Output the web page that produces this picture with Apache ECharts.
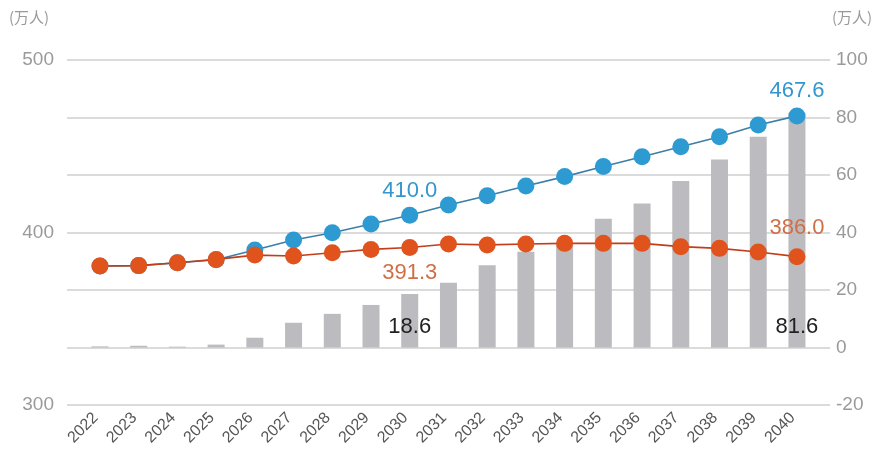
<!DOCTYPE html>
<html>
<head>
<meta charset="utf-8">
<script src="https://cdn.jsdelivr.net/npm/echarts@6/dist/echarts.min.js"></script>
<style>
  html, body { margin: 0; padding: 0; background: #ffffff; }
  #chart { width: 884px; height: 462px; }
</style>
</head>
<body>
<div id="chart"></div>
<script>
// Years on the category axis
const years = ['2022','2023','2024','2025','2026','2027','2028','2029','2030','2031',
               '2032','2033','2034','2035','2036','2037','2038','2039','2040'];

// Gap between the two scenarios (right axis, 万人)
const gapValues = [0.4, 0.6, 0.3, 1.0, 3.4, 8.6, 11.7, 14.8, 18.6, 22.5,
                   28.6, 33.3, 36.0, 44.8, 50.1, 57.9, 65.4, 73.3, 81.6];

// Demand-side scenario (left axis, 万人)
const blueValues = [380.6, 380.8, 382.5, 384.2, 389.9, 395.7, 399.9, 404.9, 410.0, 415.9,
                    421.3, 427.0, 432.4, 438.3, 443.9, 449.7, 455.5, 462.3, 467.6];

// Supply-side scenario (left axis, 万人)
const orangeValues = [380.6, 380.8, 382.5, 384.4, 386.9, 386.4, 388.3, 390.2, 391.3, 393.3,
                      392.8, 393.3, 393.7, 393.7, 393.7, 391.8, 390.8, 388.7, 386.0];

// Left and right axis ranges
const leftAxis = { min: 300, max: 500, interval: 100 };
const rightAxis = { min: -20, max: 100, interval: 20 };

// Years whose values are printed on the chart
const labelledYears = ['2030', '2040'];

const BLUE = '#2d9bd2';
const ORANGE = '#e0531d';
const BAR = '#bcbcc0';
const AXIS_TEXT = '#9a9a9a';
const FONT = 'Liberation Sans, Arial, sans-serif';

function labelledIndex(i) { return labelledYears.indexOf(years[i]) !== -1; }

function lineData(values, labelFor) {
  return values.map((v, i) => {
    if (!labelledIndex(i)) return v;
    return { value: v, label: labelFor(years[i]) };
  });
}

const chart = echarts.init(document.getElementById('chart'), null, { renderer: 'canvas' });

chart.setOption({
  animation: false,
  backgroundColor: '#ffffff',
  textStyle: { fontFamily: FONT },
  grid: [
    // plotting grid
    { left: 80.6, right: 67.7, top: 60, bottom: 57 },
    // wider grid carrying the gridlines and axis labels
    { left: 67, right: 54, top: 60, bottom: 57 }
  ],
  xAxis: [
    {
      type: 'category', gridIndex: 0, data: years, boundaryGap: true,
      axisLine: { show: false }, axisTick: { show: false },
      axisLabel: {
        interval: 0, rotate: 45, margin: 6, padding: [0, 6, 0, 0],
        color: '#555555', fontSize: 16, fontFamily: FONT
      }
    },
    { type: 'category', gridIndex: 1, data: years, show: false }
  ],
  yAxis: [
    { type: 'value', gridIndex: 0, position: 'left', show: false,
      min: leftAxis.min, max: leftAxis.max, interval: leftAxis.interval },
    { type: 'value', gridIndex: 0, position: 'right', show: false,
      min: rightAxis.min, max: rightAxis.max, interval: rightAxis.interval },
    { type: 'value', gridIndex: 1, position: 'left',
      min: leftAxis.min, max: leftAxis.max, interval: leftAxis.interval,
      axisLine: { show: false }, axisTick: { show: false }, splitLine: { show: false },
      axisLabel: { color: AXIS_TEXT, fontSize: 19, margin: 13, fontFamily: FONT } },
    { type: 'value', gridIndex: 1, position: 'right',
      min: rightAxis.min, max: rightAxis.max, interval: rightAxis.interval,
      axisLine: { show: false }, axisTick: { show: false },
      splitLine: { show: true, lineStyle: { color: '#cfcfcf', width: 1.5 } },
      axisLabel: { color: AXIS_TEXT, fontSize: 19, margin: 6, fontFamily: FONT } }
  ],
  graphic: [
    { type: 'text', left: 9, top: 10,
      style: { text: '(万人)', fill: AXIS_TEXT, font: '15px "Noto Sans CJK SC", sans-serif' } },
    { type: 'text', left: 832, top: 10,
      style: { text: '(万人)', fill: AXIS_TEXT, font: '15px "Noto Sans CJK SC", sans-serif' } }
  ],
  series: [
    {
      type: 'bar', name: 'gap', xAxisIndex: 0, yAxisIndex: 1,
      data: gapValues.map((v, i) => labelledIndex(i)
        ? { value: v, label: { show: true, position: 'insideBottom', distance: 10,
            color: '#222222', fontSize: 22, fontFamily: FONT,
            formatter: p => p.value.toFixed(1) } }
        : v),
      barWidth: 17,
      itemStyle: { color: BAR },
      z: 1
    },
    {
      type: 'line', name: 'demand', xAxisIndex: 0, yAxisIndex: 0,
      data: lineData(blueValues, y => ({
        show: true, position: 'top', distance: 5,
        color: '#3596cf', fontSize: 22, fontFamily: FONT,
        formatter: p => p.value.toFixed(1)
      })),
      symbol: 'circle', symbolSize: 17,
      lineStyle: { color: '#3b7fa8', width: 1.6 },
      itemStyle: { color: BLUE },
      z: 3
    },
    {
      type: 'line', name: 'supply', xAxisIndex: 0, yAxisIndex: 0,
      data: lineData(orangeValues, y => ({
        show: true, position: y === '2030' ? 'bottom' : 'top', distance: y === '2030' ? 6 : 9,
        color: '#cf6f47', fontSize: 22, fontFamily: FONT,
        formatter: p => p.value.toFixed(1)
      })),
      symbol: 'circle', symbolSize: 17,
      lineStyle: { color: '#c23d1a', width: 1.6 },
      itemStyle: { color: ORANGE },
      z: 4
    }
  ]
});
</script>
</body>
</html>
